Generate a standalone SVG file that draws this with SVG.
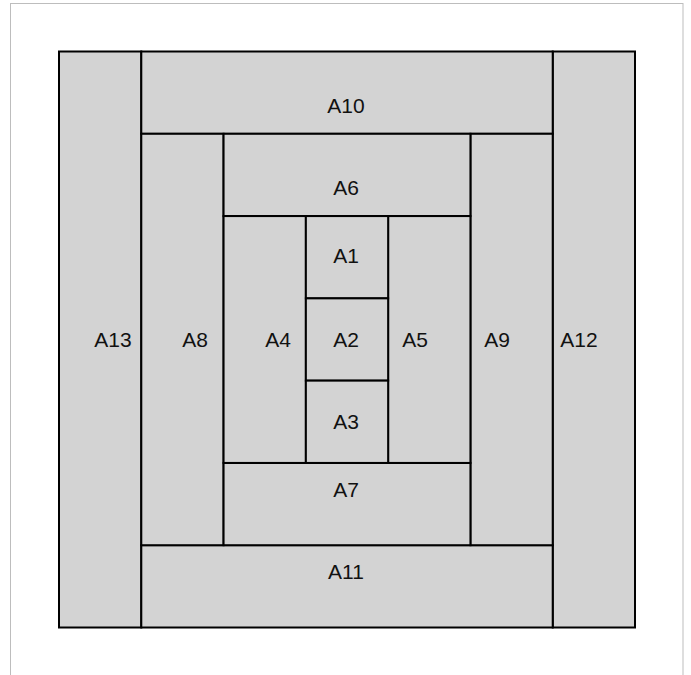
<svg xmlns="http://www.w3.org/2000/svg" width="691" height="675" viewBox="0 0 691 675">
<style>
.c{fill:#d3d3d3;stroke:#000;stroke-width:2}
.t{font-family:"Liberation Sans",Arial,sans-serif;font-size:21px;fill:#111;text-anchor:middle}
</style>
<rect x="0" y="0" width="691" height="675" fill="#fff"/>
<rect x="10.5" y="3.5" width="672.5" height="700" fill="#fff" stroke="#bdbdbd" stroke-width="1"/>
<g id="A13"><rect class="c" x="59" y="51.5" width="82.29" height="576"/><text class="t" x="113" y="347">A13</text></g>
<g id="A12"><rect class="c" x="552.71" y="51.5" width="82.29" height="576"/><text class="t" x="579" y="347">A12</text></g>
<g id="A10"><rect class="c" x="141.29" y="51.5" width="411.42" height="82.29"/><text class="t" x="346" y="113">A10</text></g>
<g id="A11"><rect class="c" x="141.29" y="545.21" width="411.42" height="82.29"/><text class="t" x="346" y="579">A11</text></g>
<g id="A8"><rect class="c" x="141.29" y="133.79" width="82.28" height="411.42"/><text class="t" x="195" y="347">A8</text></g>
<g id="A9"><rect class="c" x="470.43" y="133.79" width="82.28" height="411.42"/><text class="t" x="497" y="347">A9</text></g>
<g id="A6"><rect class="c" x="223.57" y="133.79" width="246.86" height="82.28"/><text class="t" x="346" y="195">A6</text></g>
<g id="A7"><rect class="c" x="223.57" y="462.93" width="246.86" height="82.28"/><text class="t" x="346" y="497">A7</text></g>
<g id="A4"><rect class="c" x="223.57" y="216.07" width="82.29" height="246.86"/><text class="t" x="278" y="347">A4</text></g>
<g id="A5"><rect class="c" x="388.14" y="216.07" width="82.29" height="246.86"/><text class="t" x="415" y="347">A5</text></g>
<g id="A1"><rect class="c" x="305.86" y="216.07" width="82.28" height="82.29"/><text class="t" x="346" y="263">A1</text></g>
<g id="A2"><rect class="c" x="305.86" y="298.36" width="82.28" height="82.28"/><text class="t" x="346" y="347">A2</text></g>
<g id="A3"><rect class="c" x="305.86" y="380.64" width="82.28" height="82.29"/><text class="t" x="346" y="429">A3</text></g>
<g id="connectors"></g>
</svg>
